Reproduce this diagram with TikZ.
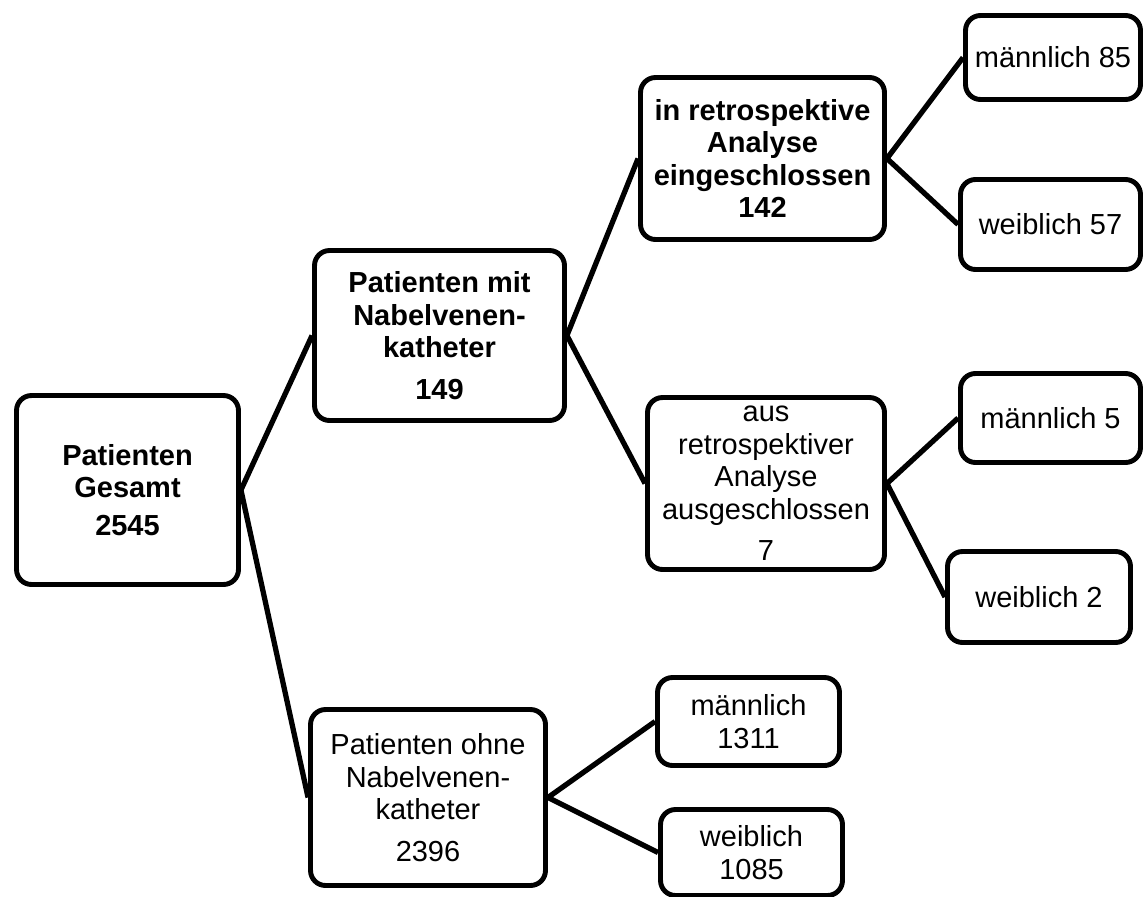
\documentclass[tikz,border=0pt]{standalone}
\usepackage{fontspec}
\setmainfont{Liberation Sans}
\usepackage{tikz}
\tikzset{x=0.02cm, y=-0.02cm, font=\fontsize{16.5}{18.5}\selectfont}
\tikzstyle{box} = [draw, line width=2.8pt, rounded corners=0.3cm, align=center, inner sep=0pt]
\tikzstyle{boldbox} = [box, font=\fontsize{16.5}{18.5}\selectfont\bfseries]
\tikzstyle{link} = [line width=3pt]

\begin{document}
\begin{tikzpicture}
		\useasboundingbox (0,0) rectangle (1145,896);
		\node [boldbox, minimum width=4.44cm, minimum height=3.78cm] (gesamt) at (127.5,490) {Patienten\\Gesamt\\[3pt]2545};
		\node [boldbox, minimum width=5cm, minimum height=3.4cm] (mit) at (439.5,335.5) {Patienten mit\\Nabelvenen-\\katheter\\[5pt]149};
		\node [box, minimum width=4.7cm, minimum height=3.52cm] (ohne) at (428,797.5) {Patienten ohne\\Nabelvenen-\\katheter\\[5pt]2396};
		\node [boldbox, minimum width=4.88cm, minimum height=3.24cm] (einge) at (762.5,158.5) {in retrospektive\\Analyse\\eingeschlossen\\142};
		\node [box, minimum width=4.74cm, minimum height=3.44cm] (ausge) at (766,483.5) {aus\\retrospektiver\\Analyse\\ausgeschlossen\\[5pt]7};
		\node [box, minimum width=3.5cm, minimum height=1.68cm] (einge-m) at (1053,57.5) {männlich 85};
		\node [box, minimum width=3.6cm, minimum height=1.8cm] (einge-w) at (1050.5,224.5) {weiblich 57};
		\node [box, minimum width=3.6cm, minimum height=1.78cm] (ausge-m) at (1050.5,418) {männlich 5};
		\node [box, minimum width=3.66cm, minimum height=1.82cm] (ausge-w) at (1039,597) {weiblich 2};
		\node [box, minimum width=3.64cm, minimum height=1.76cm] (ohne-m) at (748.5,721.5) {männlich\\1311};
		\node [box, minimum width=3.64cm, minimum height=1.72cm] (ohne-w) at (751.5,852.5) {weiblich\\1085};

		\draw [link] (gesamt.east) -- (mit.west);
		\draw [link] (gesamt.east) -- (ohne.west);
		\draw [link] (mit.east) -- (einge.west);
		\draw [link] (mit.east) -- (ausge.west);
		\draw [link] (einge.east) -- (einge-m.west);
		\draw [link] (einge.east) -- (einge-w.west);
		\draw [link] (ausge.east) -- (ausge-m.west);
		\draw [link] (ausge.east) -- (ausge-w.west);
		\draw [link] (ohne.east) -- (ohne-m.west);
		\draw [link] (ohne.east) -- (ohne-w.west);
	\end{tikzpicture}
\end{document}
